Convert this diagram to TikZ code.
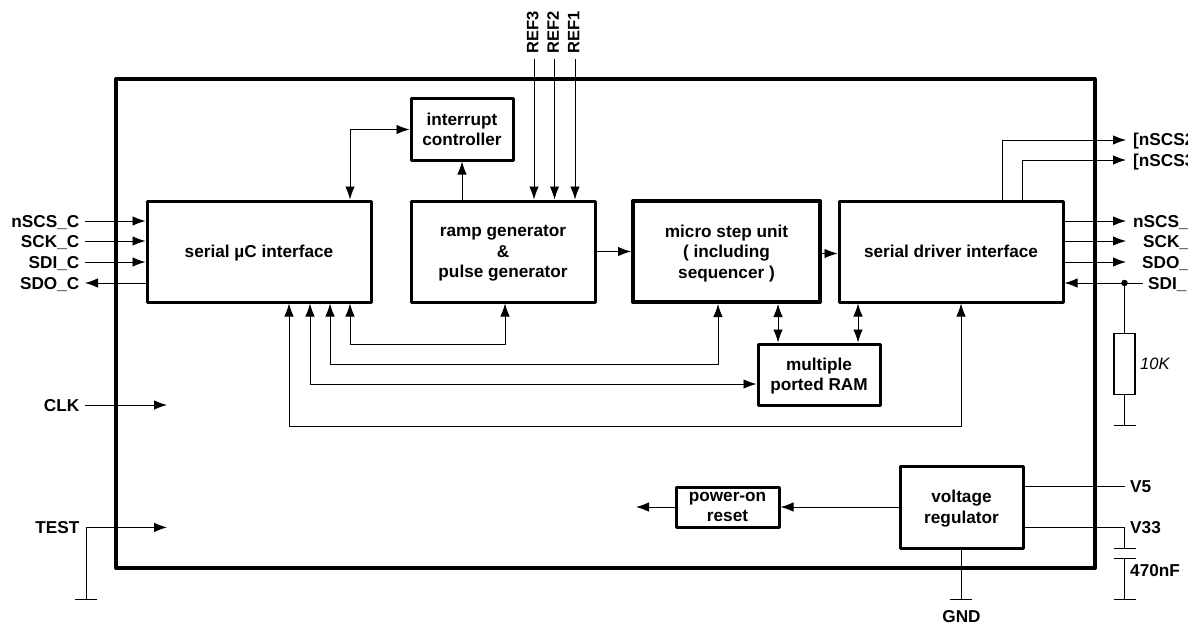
\documentclass[tikz,border=0pt]{standalone}
\usepackage{fontspec}
\setmainfont{Liberation Sans}
\usetikzlibrary{arrows.meta}
\tikzset{
  >={Latex[length=13pt,width=9.5pt]},
  wire/.style={line width=0.9pt},
  block/.style={draw,line width=3pt,line join=round,align=center,font=\fontsize{17.2}{20.5}\selectfont\bfseries,inner sep=0pt,text depth=-1pt},
  pin/.style={font=\fontsize{17.2}{18}\selectfont\bfseries,inner sep=5.5pt,text height=12pt,text depth=0pt},
  refpin/.style={pin,rotate=90,anchor=west,font=\fontsize{16.5}{18}\selectfont\bfseries,text depth=3.5pt},
}
\begin{document}
\begin{tikzpicture}[x=1pt,y=-1pt]
\useasboundingbox (0,0) rectangle (1188,623);
%Gehaeuse:
\node[draw,line width=4pt,line join=round,minimum width=979,minimum height=489] (chip) at (605.5,323.5) {};
%Bloecke:
\node[block,minimum width=224,minimum height=101] (uc) at (259,251.5) {serial µC interface};
\node[block,minimum width=102,minimum height=61] (irq) at (462,129.5) {interrupt\\controller};
\node[block,minimum width=184,minimum height=101] (ramp) at (503,251.5) {ramp generator\\\&\\pulse generator};
\node[block,line width=4pt,minimum width=187,minimum height=101] (micro) at (726.5,251.5) {micro step unit\\( including\\sequencer )};
\node[block,minimum width=224,minimum height=101] (driver) at (951,251.5) {serial driver interface};
\node[block,minimum width=122,minimum height=61] (ram) at (819,374.5) {multiple\\ported RAM};
\node[block,minimum width=123,minimum height=82] (volt) at (961.5,507) {voltage\\regulator};
\node[block,minimum width=103,minimum height=40] (por) at (727.5,507) {power-on\\reset};
%Anschluesse links:
\node[pin,anchor=east] (nscsc) at (85,221) {nSCS\_C};
\node[pin,anchor=east] (sckc) at (85,241) {SCK\_C};
\node[pin,anchor=east] (sdic) at (85,262) {SDI\_C};
\node[pin,anchor=east] (sdoc) at (85,283) {SDO\_C};
\node[pin,anchor=east] (clk) at (85,405) {CLK};
\node[pin,anchor=east] (test) at (85,527.4) {TEST};
%Anschluesse oben:
\node[refpin] (ref3) at (534,59) {REF3};
\node[refpin] (ref2) at (554.5,59) {REF2};
\node[refpin] (ref1) at (575,59) {REF1};
%Anschluesse rechts:
\node[pin,anchor=west] (nscsb) at (1127.5,140) {[nSCS2};
\node[pin,anchor=west] (nscsa) at (1127.5,160) {[nSCS3};
\node[pin,anchor=west] (nscsd) at (1127.5,221) {nSCS\_};
\node[pin,anchor=west] (sckd) at (1137.5,241) {SCK\_};
\node[pin,anchor=west] (sdod) at (1136.5,262) {SDO\_};
\node[pin,anchor=west] (sdid) at (1142.5,283) {SDI\_};
\node[pin,anchor=west] (vfive) at (1124.5,486) {V5};
\node[pin,anchor=west] (vthree) at (1124.5,527.4) {V33};
\node[pin,anchor=north,inner sep=0pt] (gnd) at (961.5,610) {GND};
\coordinate (rgt) at (1126,0);
\coordinate (clkend) at (167,405);
\coordinate (testend) at (167,527.4);
\coordinate (porend) at (636,507);
\coordinate (busa) at (350,344);
\coordinate (busb) at (330,364);
\coordinate (busc) at (310,384);
\coordinate (busd) at (289,426);
\coordinate (gndtest) at (86,599);
\coordinate (gndres) at (1124.5,425);
\coordinate (gndcap) at (1124.5,599);
\coordinate (gndvolt) at (961,599);
\coordinate (capa) at (1124.5,548);
\coordinate (capb) at (1124.5,558);
\node[draw,line width=1.1pt,minimum width=21,minimum height=61,inner sep=0pt] (res) at (1124.5,364) {};
\node[font=\fontsize{16.5}{18}\selectfont\itshape,anchor=west,inner sep=0pt] (resval) at (1140,364) {10K};
\node[pin,anchor=west,inner sep=0pt] (capval) at (1130,570) {470nF};
\node[circle,fill,inner sep=0pt,minimum size=6.5] (dot) at (1124.5,283) {};
%Verbindungen links:
\draw[wire,->] (nscsc.east) -- (nscsc.east -| uc.west);
\draw[wire,->] (sckc.east) -- (sckc.east -| uc.west);
\draw[wire,->] (sdic.east) -- (sdic.east -| uc.west);
\draw[wire,->] (sdoc.east -| uc.west) -- (sdoc.east);
\draw[wire,->] (clk.east) -- (clkend);
\draw[wire,->] (gndtest) |- (testend);
%Verbindungen oben:
\draw[wire,->] (ref3.west) -- (ref3.west |- ramp.north);
\draw[wire,->] (ref2.west) -- (ref2.west |- ramp.north);
\draw[wire,->] (ref1.west) -- (ref1.west |- ramp.north);
\draw[wire,->] (irq.south |- ramp.north) -- (irq.south);
\draw[wire,<->] (busa |- uc.north) |- (irq.west);
%Bloecke untereinander:
\draw[wire,->] (ramp.east) -- (micro.west);
\draw[wire,->] ([yshift=-2]micro.east) -- ([yshift=-2]driver.west);
\draw[wire,<->] (busa |- uc.south) -- (busa) -| ([xshift=2]ramp.south);
\draw[wire,<->] (busb |- uc.south) -- (busb) -| ([xshift=-8.5]micro.south);
\draw[wire,<->] (busc |- uc.south) -- (busc) -- (busc -| ram.west);
\draw[wire,<->] (busd |- uc.south) -- (busd) -| ([xshift=10]driver.south);
\draw[wire,<->] ([xshift=-41]ram.north) -- ([xshift=-41]ram.north |- micro.south);
\draw[wire,<->] ([xshift=39]ram.north) -- ([xshift=39]ram.north |- driver.south);
%Verbindungen rechts:
\draw[wire,->] (driver.north -| 1002,0) |- (nscsb.west -| rgt);
\draw[wire,->] (driver.north -| 1022,0) |- (nscsa.west -| rgt);
\draw[wire,->] (nscsd.west -| driver.east) -- (nscsd.west -| rgt);
\draw[wire,->] (sckd.west -| driver.east) -- (sckd.west -| rgt);
\draw[wire,->] (sdod.west -| driver.east) -- (sdod.west -| rgt);
\draw[wire,->] (sdid.west) -- (sdid.west -| driver.east);
\draw[wire] (dot) -- (res.north);
\draw[wire] (res.south) -- (gndres);
%Spannungsregler:
\draw[wire,->] (volt.west) -- (por.east);
\draw[wire,->] (por.west) -- (porend);
\draw[wire] (vfive.west -| volt.east) -- (vfive.west);
\draw[wire] (vthree.west -| volt.east) -- (vthree.west) -- (capa);
\draw[wire] (capb) -- (gndcap);
\draw[wire] (volt.south -| gndvolt) -- (gndvolt);
\foreach \p in {gndtest,gndres,gndcap,gndvolt,capa,capb}
  \draw[wire] ([xshift=-11]\p) -- ([xshift=11]\p);
\end{tikzpicture}
\end{document}
